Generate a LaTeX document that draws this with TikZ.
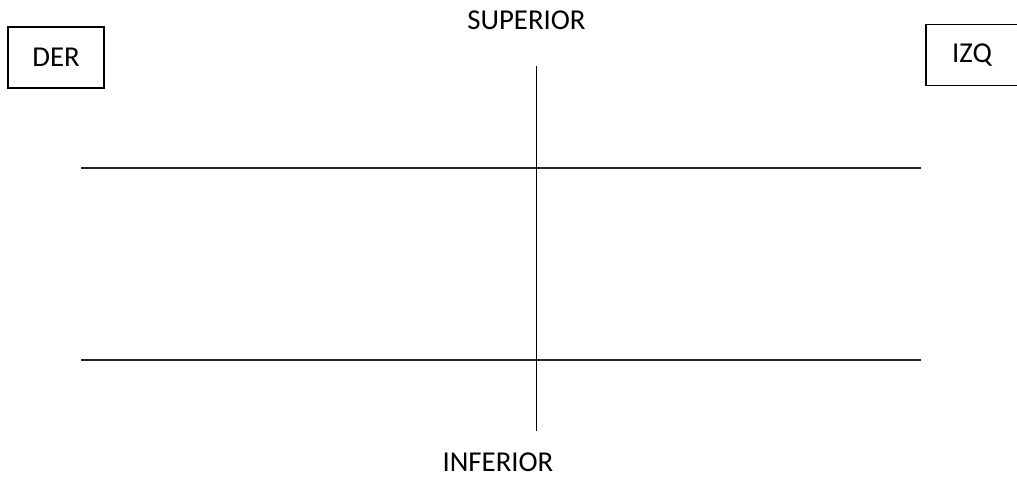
\documentclass[tikz,border=0pt]{standalone}
\usepackage{fontspec}
\setmainfont{Carlito}
\begin{document}
\begin{tikzpicture}[x=1pt,y=-1pt,
  lbl/.style={font=\fontsize{28.8}{30}\selectfont, inner sep=0pt},
  boxnode/.style={draw=black, line width=1.2pt, minimum width=#1, minimum height=61pt, inner sep=0pt, font=\fontsize{28.8}{30}\selectfont},
  rule/.style={line width=1.3pt, draw=black!85}]
\useasboundingbox (0,0) rectangle (1017,477);
\node[boxnode=96pt] (der) at (56,57.5) {DER};
\node[boxnode=92pt] (izq) at (972,55) {IZQ};
\node[lbl, anchor=base] (sup) at (526.5,29) {SUPERIOR};
\node[lbl, anchor=base] (inf) at (498,471) {INFERIOR};
\coordinate (vt) at (536.5,66);
\coordinate (vb) at (536.5,431);
\coordinate (h1l) at (81,168);
\coordinate (h1r) at (921,168);
\coordinate (h2l) at (81,360);
\coordinate (h2r) at (921,360);
\draw[rule] (h1l) -- (h1r);
\draw[rule] (h2l) -- (h2r);
\draw[line width=1.2pt] (vt) -- (vb);
\end{tikzpicture}
\end{document}
